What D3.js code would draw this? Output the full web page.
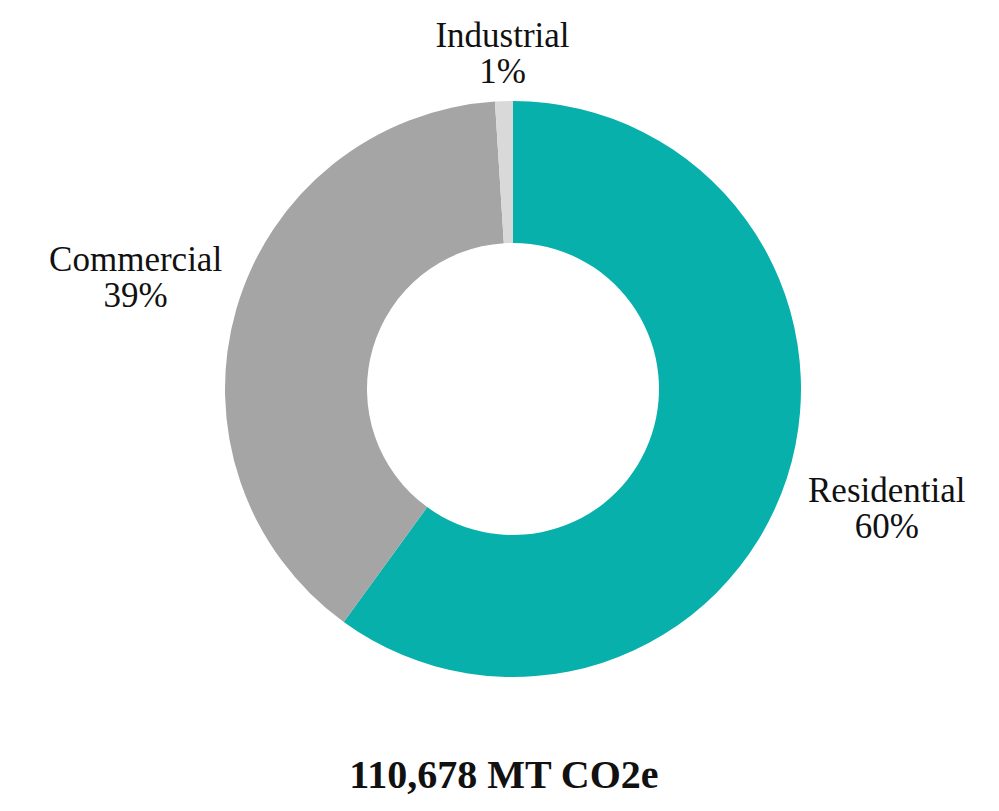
<!DOCTYPE html>
<meta charset="utf-8">
<script src="https://d3js.org/d3.v7.min.js"></script>
<style>
  body { margin: 0; background: #fff; }
  text { font-family: "Liberation Serif", "Times New Roman", serif; fill: #111; }
</style>
<div id="my_dataviz"></div>
<script>

// data
var sectors = ["Residential", "Commercial", "Industrial"];
var shares = [60, 39, 1];
var colors = ["#08B0AB", "#A5A5A5", "#D9D9D9"];
var total = "110,678 MT CO2e";

var width = 999, height = 811;
var cx = 513, cy = 389;
var outerR = 288, innerR = 146;

var svg = d3.select("#my_dataviz")
  .append("svg")
    .attr("width", width)
    .attr("height", height);

var g = svg.append("g")
    .attr("transform", "translate(" + cx + "," + cy + ")");

var data = sectors.map(function(s, i) { return {name: s, value: shares[i], color: colors[i]}; });

// pie starts at 12 o'clock and runs clockwise, in data order
var pie = d3.pie()
    .value(function(d) { return d.value; })
    .sort(null);

var arc = d3.arc()
    .innerRadius(innerR)
    .outerRadius(outerR);

var arcs = pie(data);

g.selectAll("path")
  .data(arcs)
  .enter()
  .append("path")
    .attr("d", arc)
    .style("fill", function(d) { return d.data.color; });

// labels sit outside the ring; the tiny slice's label is pulled in a bit
function labelPos(d) {
  var r = d.data.value < 5 ? 334 : 393;
  return d3.arc().innerRadius(r).outerRadius(r).centroid(d);
}

var labels = g.selectAll(".lbl")
  .data(arcs)
  .enter()
  .append("g")
    .attr("class", "lbl");

labels.append("text")
    .attr("x", function(d) { return labelPos(d)[0]; })
    .attr("y", function(d) { return labelPos(d)[1] - 8; })
    .text(function(d) { return d.data.name; })
    .style("font-size", "35px")
    .style("text-anchor", "middle");

labels.append("text")
    .attr("x", function(d) { return labelPos(d)[0]; })
    .attr("y", function(d) { return labelPos(d)[1] + 28; })
    .text(function(d) { return d.data.value + "%"; })
    .style("font-size", "35px")
    .style("text-anchor", "middle");

// total under the chart
svg.append("text")
    .attr("x", 504)
    .attr("y", 788)
    .text(total)
    .style("font-size", "40px")
    .style("font-weight", "bold")
    .style("text-anchor", "middle");

</script>
